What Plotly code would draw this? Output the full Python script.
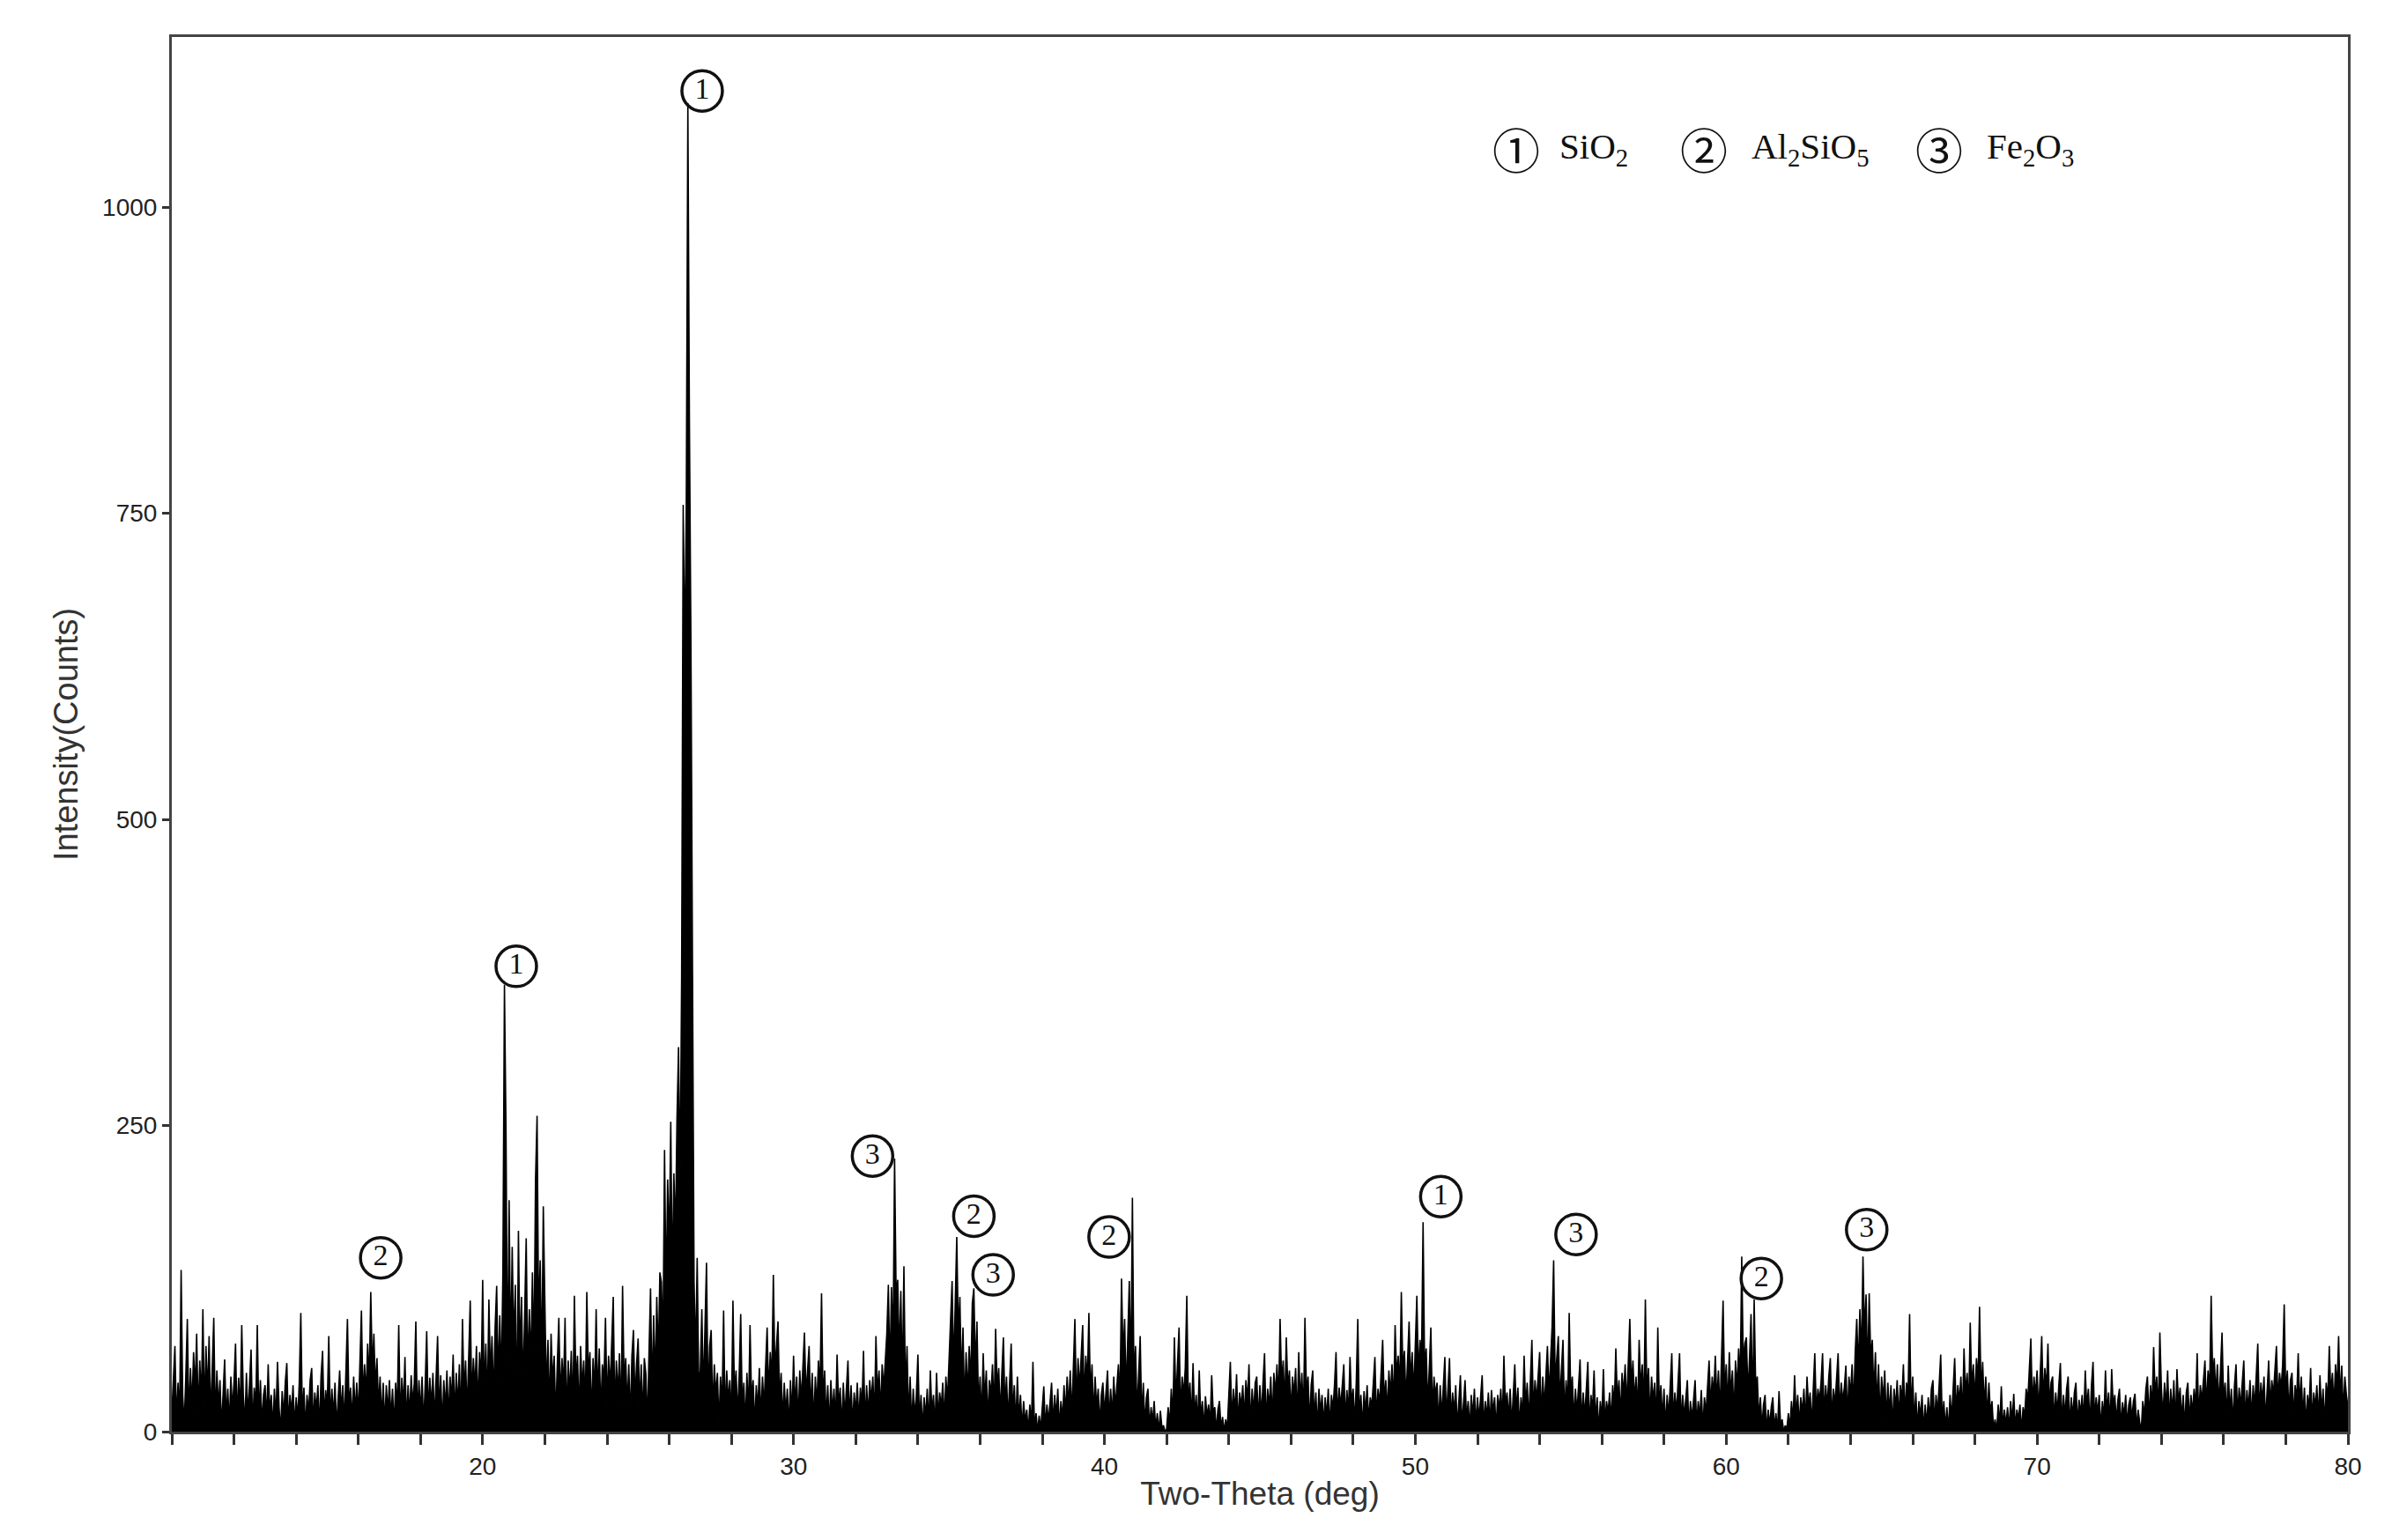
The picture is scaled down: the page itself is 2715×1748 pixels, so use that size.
import plotly.graph_objects as go

# ---------------- data ----------------
STEP = 0.05  # 2-theta sampling step of the hand-read series (deg)

intensity_10_20 = [
    15, 48, 70, 8, 40, 12, 132, 30, 5, 45, 92, 10, 52, 20, 65, 35, 80, 12, 58, 25,
    100, 15, 70, 30, 78, 10, 62, 93, 8, 50, 20, 42, 3, 38, 59, 10, 35, 5, 45, 18,
    40, 72, 8, 44, 15, 87, 30, 5, 48, 12, 40, 67, 2, 36, 20, 87, 10, 42, 5, 30,
    38, 8, 55, 15, 30, 2, 35, 10, 57, 20, 0, 33, 12, 40, 56, 5, 30, 15, 38, 3,
    28, 10, 40, 97, 12, 36, 2, 30, 15, 42, 52, 5, 32, 18, 38, 0, 45, 66, 10, 34,
    20, 78, 8, 35, 12, 40, 3, 30, 50, 15, 38, 5, 42, 92, 20, 36, 8, 45, 15, 40,
    12, 48, 99, 25, 55, 30, 72, 40, 114, 50, 80, 35, 60, 20, 45, 10, 40, 5, 38, 15,
    42, 10, 35, 3, 40, 18, 87, 8, 44, 20, 61, 5, 38, 12, 46, 22, 40, 90, 10, 42,
    15, 45, 5, 38, 82, 12, 44, 20, 48, 8, 40, 78, 15, 46, 3, 42, 18, 50, 10, 45,
    25, 63, 12, 48, 20, 55, 8, 92, 30, 58, 15, 62, 107, 25, 60, 35, 70, 18, 65, 40,
]
intensity_20_30 = [
    124, 30, 72, 20, 108, 45, 78, 25, 85, 119, 40, 95, 40, 130, 365, 248, 38, 189, 60, 151,
    70, 120, 10, 164, 60, 110, 35, 95, 158, 45, 100, 55, 130, 60, 206, 258, 90, 140, 50, 184,
    112, 30, 75, 15, 80, 40, 62, 10, 55, 93, 25, 60, 35, 93, 8, 58, 30, 66, 15, 111,
    40, 62, 12, 70, 35, 58, 20, 114, 45, 65, 10, 60, 30, 100, 25, 68, 15, 55, 40, 93,
    20, 62, 35, 70, 110, 15, 58, 30, 64, 10, 119, 40, 60, 20, 55, 8, 62, 83, 25, 55,
    76, 20, 55, 10, 60, 47, 5, 65, 117, 30, 95, 40, 110, 60, 130, 122, 70, 230, 110, 206,
    150, 253, 120, 211, 160, 255, 314, 200, 373, 757, 630, 760, 1085, 824, 640, 373, 122, 60, 142, 40,
    50, 100, 30, 85, 138, 25, 70, 83, 15, 55, 30, 48, 5, 45, 20, 99, 10, 50, 25, 42,
    8, 107, 30, 50, 12, 45, 96, 20, 40, 5, 48, 15, 87, 25, 42, 3, 38, 18, 52, 10,
    45, 20, 55, 85, 30, 65, 40, 128, 50, 70, 90, 25, 48, 8, 40, 15, 35, 2, 42, 12,
]
intensity_30_40 = [
    62, 20, 45, 8, 50, 25, 55, 81, 30, 52, 70, 15, 48, 5, 45, 20, 58, 35, 113, 25,
    50, 10, 38, 3, 42, 15, 35, 8, 63, 20, 36, 2, 40, 12, 34, 58, 10, 38, 5, 32,
    15, 40, 8, 36, 20, 66, 5, 38, 12, 42, 25, 45, 10, 78, 30, 50, 15, 55, 35, 62,
    80, 120, 45, 118, 70, 223, 110, 124, 60, 115, 40, 135, 30, 70, 10, 45, 5, 35, 12, 30,
    63, 8, 30, 2, 28, 12, 35, 5, 50, 15, 30, 3, 48, 10, 32, 20, 40, 8, 45, 25,
    60, 100, 123, 50, 115, 159, 80, 110, 40, 85, 20, 65, 30, 70, 40, 105, 117, 50, 90, 20,
    45, 10, 64, 25, 50, 8, 42, 30, 55, 15, 84, 35, 52, 12, 48, 77, 20, 45, 8, 40,
    72, 15, 38, 5, 45, 10, 30, 2, 25, 8, 18, 0, 22, 5, 57, 3, 15, 0, 13, 2,
    20, 37, 3, 22, 8, 28, 40, 5, 30, 12, 35, 2, 25, 10, 38, 15, 45, 20, 50, 12,
    55, 92, 20, 60, 35, 65, 87, 25, 62, 40, 97, 30, 55, 12, 45, 20, 35, 5, 30, 40,
]
intensity_40_50 = [
    15, 32, 50, 8, 35, 12, 45, 20, 38, 55, 25, 125, 60, 92, 30, 80, 123, 45, 191, 40,
    70, 15, 55, 78, 10, 40, 5, 28, 35, 3, 20, 8, 25, 2, 15, 0, 17, 3, 5, 0,
    2, 20, 5, 35, 10, 77, 25, 50, 85, 15, 45, 30, 52, 111, 20, 40, 8, 56, 12, 30,
    5, 50, 10, 25, 2, 29, 12, 22, 5, 46, 15, 20, 0, 18, 25, 3, 12, 0, 10, 2,
    30, 57, 8, 35, 15, 47, 5, 32, 20, 38, 10, 42, 25, 55, 3, 35, 15, 40, 45, 8,
    38, 12, 40, 64, 5, 35, 20, 45, 10, 48, 30, 55, 25, 92, 40, 58, 20, 77, 35, 50,
    15, 45, 30, 52, 8, 65, 25, 48, 12, 93, 30, 45, 5, 38, 50, 10, 32, 2, 35, 15,
    30, 5, 28, 12, 35, 3, 30, 18, 38, 65, 10, 36, 20, 40, 55, 8, 34, 15, 61, 22,
    35, 5, 40, 92, 12, 30, 2, 33, 15, 38, 8, 28, 20, 40, 61, 10, 35, 22, 45, 75,
    25, 42, 15, 50, 30, 55, 20, 87, 45, 62, 35, 114, 50, 66, 25, 60, 90, 40, 65, 30,
]
intensity_50_60 = [
    70, 111, 45, 75, 60, 171, 50, 68, 20, 55, 85, 15, 45, 30, 40, 5, 38, 12, 35, 61,
    10, 40, 60, 8, 32, 15, 38, 3, 30, 46, 5, 28, 42, 10, 25, 2, 30, 12, 35, 5,
    28, 10, 30, 46, 3, 25, 12, 32, 5, 34, 15, 28, 2, 30, 18, 35, 8, 62, 20, 32,
    10, 35, 5, 30, 55, 15, 36, 3, 28, 12, 62, 20, 40, 8, 45, 75, 15, 42, 25, 48,
    65, 10, 45, 20, 50, 70, 30, 55, 86, 140, 40, 60, 78, 25, 55, 75, 12, 42, 20, 97,
    30, 45, 8, 35, 15, 40, 59, 5, 32, 12, 38, 57, 3, 30, 18, 50, 8, 28, 0, 25,
    10, 51, 5, 25, 15, 32, 8, 38, 20, 68, 25, 42, 12, 48, 30, 55, 20, 50, 92, 35,
    58, 25, 45, 15, 75, 35, 55, 20, 108, 30, 52, 10, 45, 25, 40, 5, 85, 20, 38, 10,
    35, 3, 30, 12, 38, 64, 8, 32, 15, 36, 64, 5, 30, 12, 28, 42, 3, 25, 10, 30,
    42, 5, 25, 12, 34, 2, 28, 15, 40, 58, 20, 45, 30, 62, 25, 50, 15, 55, 107, 30,
]
intensity_60_70 = [
    55, 20, 65, 30, 50, 12, 58, 35, 68, 40, 143, 55, 72, 77, 30, 60, 96, 20, 108, 35,
    45, 10, 28, 3, 22, 30, 0, 18, 5, 20, 28, 2, 15, 0, 33, 5, 10, 0, 5, 2,
    15, 3, 25, 8, 46, 12, 30, 5, 28, 15, 35, 8, 45, 20, 32, 5, 38, 64, 15, 35,
    25, 40, 64, 12, 38, 20, 45, 60, 8, 35, 22, 42, 64, 15, 40, 25, 36, 54, 10, 45,
    30, 55, 20, 65, 92, 50, 100, 60, 143, 80, 112, 45, 113, 60, 75, 30, 65, 20, 55, 10,
    45, 25, 50, 8, 40, 15, 38, 3, 35, 20, 42, 10, 38, 25, 55, 12, 40, 30, 96, 15,
    45, 8, 32, 2, 25, 12, 30, 0, 22, 5, 28, 10, 35, 42, 5, 30, 15, 38, 63, 8,
    25, 3, 20, 0, 30, 10, 40, 60, 15, 38, 25, 45, 12, 68, 30, 48, 20, 89, 35, 55,
    25, 60, 40, 102, 30, 57, 20, 45, 10, 40, 15, 25, 2, 10, 0, 22, 5, 37, 3, 18,
    5, 20, 2, 25, 8, 31, 3, 18, 10, 22, 0, 20, 12, 35, 25, 48, 76, 20, 45, 30,
]
intensity_70_80 = [
    50, 15, 45, 78, 25, 52, 35, 72, 20, 40, 45, 8, 32, 15, 38, 56, 5, 30, 12, 35,
    45, 3, 28, 12, 32, 40, 5, 26, 15, 30, 8, 50, 20, 35, 5, 38, 57, 10, 28, 15,
    30, 2, 25, 10, 50, 15, 32, 5, 51, 20, 30, 8, 26, 35, 3, 24, 12, 30, 5, 22,
    28, 10, 25, 31, 2, 18, 8, 0, 25, 12, 35, 45, 10, 38, 20, 69, 30, 45, 15, 81,
    35, 12, 40, 20, 50, 8, 35, 15, 42, 5, 51, 22, 36, 10, 30, 3, 32, 40, 8, 30,
    15, 35, 20, 64, 10, 38, 25, 42, 58, 20, 50, 35, 111, 45, 60, 30, 55, 20, 48, 81,
    25, 40, 10, 54, 15, 35, 5, 38, 55, 12, 36, 20, 40, 58, 8, 34, 18, 42, 10, 38,
    20, 45, 72, 15, 40, 25, 45, 8, 38, 58, 20, 42, 30, 50, 70, 25, 48, 35, 55, 104,
    30, 50, 15, 42, 48, 10, 38, 25, 64, 20, 45, 12, 36, 5, 30, 18, 52, 8, 32, 20,
    38, 10, 46, 15, 35, 5, 40, 25, 70, 30, 48, 20, 55, 35, 78, 25, 54, 15, 45, 30,
]
intensity_80 = [20]

segment_starts = [10, 20, 30, 40, 50, 60, 70, 80]
segments = [intensity_10_20, intensity_20_30, intensity_30_40, intensity_40_50,
            intensity_50_60, intensity_60_70, intensity_70_80, intensity_80]

# peak identification labels
peak_phase = ["1", "1", "2", "3", "2", "3", "2", "1", "3", "2", "3"]
peak_label_theta = [27.06, 21.08, 16.72, 32.54, 35.80, 36.42, 40.15, 50.82, 55.17, 61.13, 64.52]
peak_label_counts = [1095, 380, 142, 225, 176, 128, 159, 192, 161, 125, 165]

# key
key_symbols = ["\u2460", "\u2461", "\u2462"]
key_names = ["SiO<sub>2</sub>", "Al<sub>2</sub>SiO<sub>5</sub>", "Fe<sub>2</sub>O<sub>3</sub>"]

x_tick_values = [20, 30, 40, 50, 60, 70, 80]
y_tick_values = [0, 250, 500, 750, 1000]

# ---------------- build series ----------------
two_theta, counts = [], []
for start, vals in zip(segment_starts, segments):
    for i, v in enumerate(vals):
        two_theta.append(round(start + STEP * i, 3))
        counts.append(v)

fig = go.Figure()
fig.add_trace(go.Scatter(
    x=two_theta, y=counts, mode="lines",
    line=dict(color="#000000", width=1.6),
    fill="tozeroy", fillcolor="#000000",
    hoverinfo="skip", showlegend=False,
))
fig.add_trace(go.Scatter(
    x=peak_label_theta, y=peak_label_counts, mode="markers+text",
    text=peak_phase, textposition="middle center",
    textfont=dict(family="Liberation Serif", size=34, color="#111111"),
    marker=dict(symbol="circle-open", size=46, color="#111111",
                line=dict(width=3.5, color="#111111")),
    hoverinfo="skip", showlegend=False, cliponaxis=False,
))

key_symbol_x = [0.618, 0.704, 0.812]
key_name_x = [0.637, 0.725, 0.833]
annotations = []
for sx, nx, sym, name in zip(key_symbol_x, key_name_x, key_symbols, key_names):
    annotations.append(dict(
        x=sx, y=0.92, xref="paper", yref="paper", text=sym, showarrow=False,
        xanchor="center", yanchor="middle",
        font=dict(family="Noto Sans CJK JP", size=54, color="#111111"),
    ))
    annotations.append(dict(
        x=nx, y=0.92, xref="paper", yref="paper", text=name, showarrow=False,
        xanchor="left", yanchor="middle",
        font=dict(family="Liberation Serif", size=41, color="#111111"),
    ))

fig.update_layout(
    width=2715, height=1748,
    margin=dict(l=187, r=58, t=34, b=131, autoexpand=False),
    paper_bgcolor="white", plot_bgcolor="white",
    annotations=annotations,
    xaxis=dict(
        range=[10, 80], tickmode="array", tickvals=x_tick_values,
        ticks="outside", ticklen=12, tickwidth=2.5, tickcolor="#333333",
        minor=dict(tick0=10, dtick=2, ticks="outside", ticklen=12,
                   tickwidth=2.5, tickcolor="#333333", showgrid=False),
        showline=True, linewidth=3, linecolor="#444444", mirror=True,
        showgrid=False, zeroline=False,
        tickfont=dict(family="Liberation Sans", size=28, color="#222222"),
        title=dict(text="Two-Theta (deg)", standoff=4,
                   font=dict(family="Liberation Sans", size=37, color="#333333")),
    ),
    yaxis=dict(
        range=[0, 1139], tickmode="array", tickvals=y_tick_values,
        ticks="outside", ticklen=8, tickwidth=2.5, tickcolor="#333333",
        showline=True, linewidth=3, linecolor="#444444", mirror=True,
        showgrid=False, zeroline=False,
        tickfont=dict(family="Liberation Sans", size=28, color="#222222"),
        title=dict(text="Intensity(Counts)", standoff=16,
                   font=dict(family="Liberation Sans", size=38, color="#333333")),
    ),
)

fig.write_html("out.html")
